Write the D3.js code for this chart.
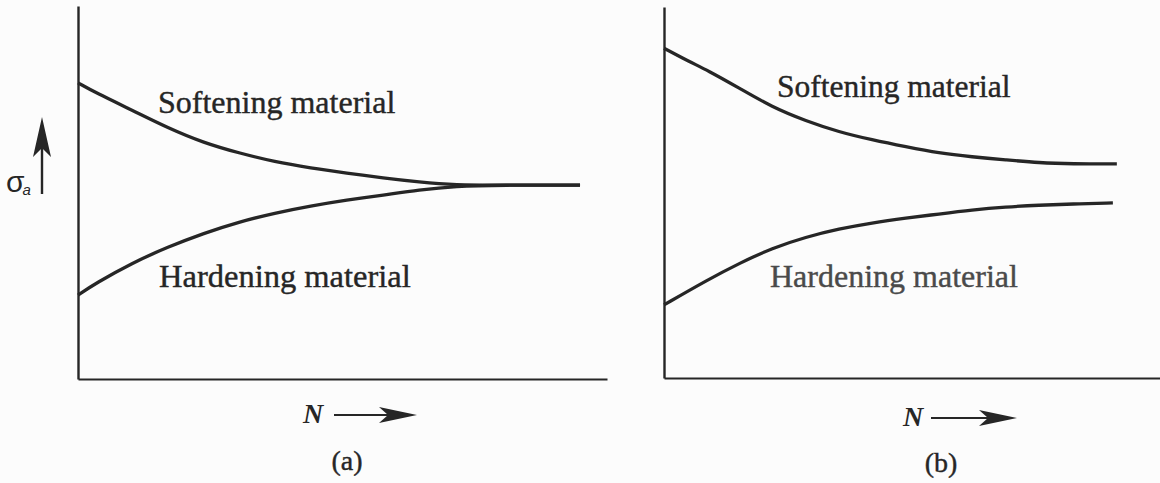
<!DOCTYPE html>
<html>
<head>
<meta charset="utf-8">
<script src="https://cdn.jsdelivr.net/npm/d3@7"></script>
<style>
  html, body { margin: 0; padding: 0; background: #fcfcfc; }
  svg { display: block; }
  text { font-family: "Liberation Serif", "DejaVu Serif", serif; fill: #262626; }
</style>
</head>
<body>
<svg id="chart" width="1160" height="483"></svg>
<script>
// ---- data (N in arbitrary units 0..100, stress amplitude in arbitrary units 0..100) ----
const panelLabels = ["(a)", "(b)"];
const seriesNames = ["Softening material", "Hardening material"];

const aSoftN = [0, 3.4, 10.2, 17.0, 23.8, 30.4, 37.2, 44.0, 50.8, 57.7, 64.5, 71.3, 80, 94.9];
const aSoftS = [79.4, 76.7, 72.1, 67.3, 63.3, 60.6, 58.2, 56.6, 55.2, 53.9, 52.8, 52.0, 52.0, 52.0];
const aHardN = [0, 3.4, 10.2, 17.0, 23.8, 30.4, 37.2, 44.0, 50.8, 57.7, 64.5, 71.3, 80, 94.9];
const aHardS = [22.5, 25.7, 31.1, 35.4, 39.1, 42.1, 44.5, 46.4, 48.0, 49.3, 50.7, 51.7, 52.0, 52.0];

const bSoftN = [0, 5.2, 8.7, 15.1, 21.8, 28.6, 35.3, 41.9, 48.8, 55.4, 62.1, 68.9, 75.6, 82.3, 91.3];
const bSoftS = [88.9, 85.2, 83.0, 78.2, 73.0, 69.3, 66.3, 64.2, 62.3, 60.6, 59.6, 58.8, 58.0, 57.7, 57.7];
const bHardN = [0, 8.7, 15.3, 21.8, 28.6, 35.3, 41.9, 48.8, 55.4, 62.1, 68.9, 75.6, 82.3, 90.5];
const bHardS = [19.7, 26.4, 31.0, 35.0, 38.0, 40.2, 41.8, 43.1, 44.2, 45.3, 46.1, 46.6, 46.9, 47.2];

const xAxisLabel = "N";
const yAxisLabel = "σ";
const yAxisSub = "a";

// ---- drawing ----
const svg = d3.select("#chart");
const ink = "#262626";

const panels = [
  { label: panelLabels[0], xr: [78, 607], yr: [379, 6],
    soft: d3.zip(aSoftN, aSoftS), hard: d3.zip(aHardN, aHardS),
    softLab: [158, 113, 32], hardLab: [159, 287, 32.5], hardColor: ink,
    nPos: [303, 423], arrow: [334, 417, 415], labPos: [347, 470], sigma: true },
  { label: panelLabels[1], xr: [664, 1160], yr: [378, 7],
    soft: d3.zip(bSoftN, bSoftS), hard: d3.zip(bHardN, bHardS),
    softLab: [777, 97, 31.5], hardLab: [770, 287, 32], hardColor: "#4a4a4a",
    nPos: [903, 426], arrow: [931, 1017, 418], labPos: [941, 472], sigma: false }
];

panels.forEach(p => {
  const x = d3.scaleLinear().domain([0, 100]).range(p.xr);
  const y = d3.scaleLinear().domain([0, 100]).range(p.yr);
  const g = svg.append("g");

  // axes (plain lines, no ticks)
  g.append("g").attr("transform", `translate(0,${y(0)})`)
    .call(d3.axisBottom(x).ticks(0).tickSizeOuter(0))
    .call(s => s.select(".domain").attr("stroke", ink).attr("stroke-width", 2.2));
  g.append("g").attr("transform", `translate(${x(0)},0)`)
    .call(d3.axisLeft(y).ticks(0).tickSizeOuter(0))
    .call(s => s.select(".domain").attr("stroke", ink).attr("stroke-width", 2.4));

  const line = d3.line().x(d => x(d[0])).y(d => y(d[1])).curve(d3.curveBasis);
  [p.soft, p.hard].forEach(data => {
    g.append("path").attr("d", line(data))
      .attr("fill", "none").attr("stroke", ink)
      .attr("stroke-width", 3.3).attr("stroke-linecap", "butt");
  });

  g.append("text").attr("x", p.softLab[0]).attr("y", p.softLab[1])
    .attr("font-size", p.softLab[2])
    .attr("stroke", ink).attr("stroke-width", 0.4)
    .text(seriesNames[0]);
  g.append("text").attr("x", p.hardLab[0]).attr("y", p.hardLab[1])
    .attr("font-size", p.hardLab[2]).style("fill", p.hardColor)
    .attr("stroke", p.hardColor).attr("stroke-width", 0.4)
    .text(seriesNames[1]);

  // N arrow
  g.append("text").attr("x", p.nPos[0]).attr("y", p.nPos[1])
    .attr("font-size", 28).attr("font-weight", "bold").attr("font-style", "italic")
    .text(xAxisLabel);
  const [ax0, ax1, ay] = p.arrow;
  g.append("line").attr("x1", ax0).attr("x2", ax1 - 25).attr("y1", ay).attr("y2", ay)
    .attr("stroke", ink).attr("stroke-width", 2.2);
  g.append("path")
    .attr("d", `M${ax1},${ay} L${ax1 - 38},${ay - 8} L${ax1 - 29},${ay} L${ax1 - 38},${ay + 8} Z`)
    .attr("fill", ink);

  g.append("text").attr("x", p.labPos[0]).attr("y", p.labPos[1])
    .attr("text-anchor", "middle").attr("font-size", 28)
    .attr("stroke", ink).attr("stroke-width", 0.4)
    .text(p.label);

  if (p.sigma) {
    // sigma_a label with upward arrow
    const st = g.append("text").attr("x", 6).attr("y", 192)
      .style("font-family", "'Liberation Sans', Arial, sans-serif");
    st.append("tspan").attr("font-size", 30).text(yAxisLabel);
    st.append("tspan").attr("font-size", 15).attr("font-style", "italic")
      .attr("dy", 3).attr("dx", -2).text(yAxisSub);
    g.append("line").attr("x1", 42).attr("x2", 42).attr("y1", 194).attr("y2", 140)
      .attr("stroke", ink).attr("stroke-width", 2.4);
    g.append("path")
      .attr("d", "M42,117 L51,157 L42,148 L33,157 Z").attr("fill", ink);
  }
});
</script>
</body>
</html>
